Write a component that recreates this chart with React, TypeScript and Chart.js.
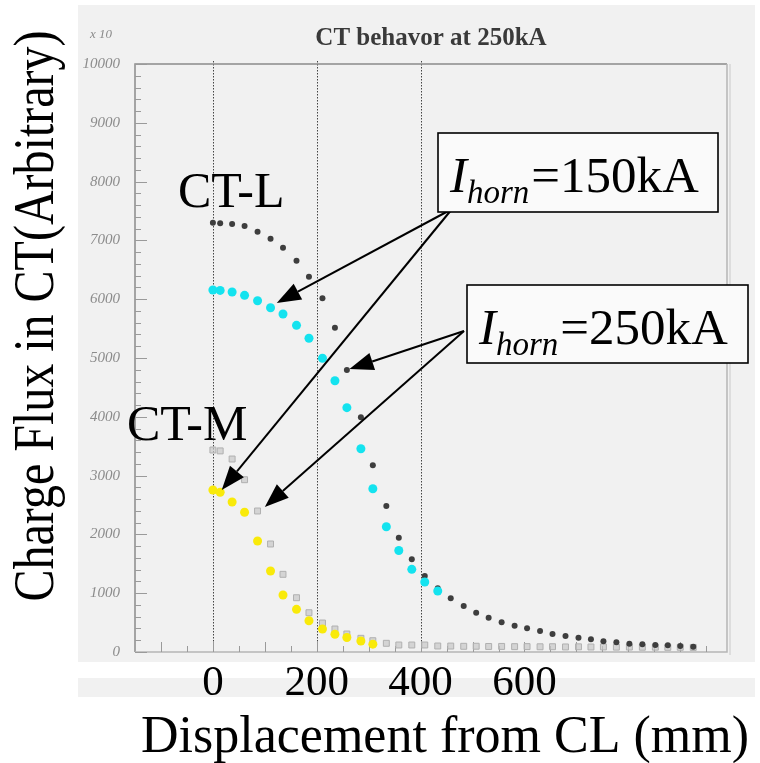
import { useEffect, useRef } from "react";
import { Chart, registerables } from "chart.js";

Chart.register(...registerables);

// Displacement from CL (mm) of each measured point
const displacementMm = [
  0, 14, 37, 61, 86, 111, 135, 161, 185, 211, 235, 258, 285, 308, 334, 358, 383, 408, 433,
  458, 483, 507, 531, 556, 581, 605, 630, 654, 679, 704, 728, 752, 777, 802, 827, 852, 876, 900, 925,
];

// CT-L at I_horn = 250kA (dark points)
const ctL250 = [
  7300, 7290, 7279, 7245, 7148, 7029, 6876, 6655, 6383, 6015, 5515, 4796, 3991, 3175, 2483, 1944,
  1577, 1293, 1083, 913, 782, 668, 583, 505, 447, 403, 357, 306, 272, 243, 216, 182, 165, 141, 131,
  119, 114, 102, 90,
];

// CT-L at I_horn = 150kA (cyan points)
const ctL150 = [
  6156, 6150, 6122, 6066, 5974, 5855, 5748, 5556, 5335, 4995, 4614, 4155, 3457, 2777, 2131, 1726,
  1406, 1190, 1037,
];

// CT-M at I_horn = 250kA (grey points)
const ctM250 = [
  3435, 3420, 3282, 2930, 2398, 1837, 1321, 923, 668, 493, 391, 306, 233, 192, 148, 119, 119, 119,
  102, 101, 97, 98, 94, 95, 91, 92, 89, 90, 86, 88, 85, 86, 83, 84, 81, 82, 79, 80, 78,
];

// CT-M at I_horn = 150kA (yellow points)
const ctM150 = [2755, 2716, 2551, 2376, 1888, 1378, 969, 726, 532, 391, 301, 247, 187, 133];

const xTickLabels = [0, 200, 400, 600];
const guideLineValues = [0, 200, 400];
const chartTitle = "CT behavor at 250kA";
const yAxisTitle = "Charge Flux in CT(Arbitrary)";
const xAxisTitle = "Displacement from CL (mm)";
const hornLabels = ["150kA", "250kA"];

// arrow targets in data units: [x mm, flux]
const arrow150Targets = [
  [123, 5935],
  [17, 2755],
];
const arrow250Targets = [
  [263, 4813],
  [100, 2466],
];

const SERIF = '"Liberation Serif", "Times New Roman", serif';

function drawArrow(ctx: CanvasRenderingContext2D, x1: number, y1: number, x2: number, y2: number) {
  const ang = Math.atan2(y2 - y1, x2 - x1);
  const headLen = 24;
  const halfW = 9;
  const bx = x2 - headLen * Math.cos(ang);
  const by = y2 - headLen * Math.sin(ang);
  ctx.beginPath();
  ctx.moveTo(x1, y1);
  ctx.lineTo(bx, by);
  ctx.lineWidth = 2;
  ctx.strokeStyle = "#000";
  ctx.stroke();
  ctx.beginPath();
  ctx.moveTo(x2, y2);
  ctx.lineTo(bx + halfW * Math.sin(ang), by - halfW * Math.cos(ang));
  ctx.lineTo(bx - halfW * Math.sin(ang), by + halfW * Math.cos(ang));
  ctx.closePath();
  ctx.fillStyle = "#000";
  ctx.fill();
}

function drawHornBox(
  ctx: CanvasRenderingContext2D,
  bx: number,
  by: number,
  bw: number,
  bh: number,
  value: string
) {
  ctx.fillStyle = "#fafafa";
  ctx.fillRect(bx, by, bw, bh);
  ctx.lineWidth = 1.6;
  ctx.strokeStyle = "#000";
  ctx.strokeRect(bx, by, bw, bh);
  const base = by + 59;
  let x = bx + 12;
  ctx.fillStyle = "#000";
  ctx.textAlign = "left";
  ctx.textBaseline = "alphabetic";
  ctx.font = `italic 51px ${SERIF}`;
  ctx.fillText("I", x, base);
  x += ctx.measureText("I").width;
  ctx.font = `italic 33px ${SERIF}`;
  ctx.fillText("horn", x, base + 11);
  x += ctx.measureText("horn").width + 2;
  ctx.font = `51px ${SERIF}`;
  ctx.fillText("=" + value, x, base);
}

const decorPlugin = {
  id: "decor",
  beforeDraw(chart: any) {
    const ctx = chart.ctx as CanvasRenderingContext2D;
    ctx.save();
    ctx.fillStyle = "#ffffff";
    ctx.fillRect(0, 0, chart.width, chart.height);
    ctx.fillStyle = "#f1f1f1";
    ctx.fillRect(78, 5, 677, 657);
    ctx.fillRect(78, 678, 677, 19);
    // title and multiplier
    ctx.fillStyle = "#3a3a3a";
    ctx.font = `bold 25px ${SERIF}`;
    ctx.textAlign = "center";
    ctx.textBaseline = "alphabetic";
    const ca = chart.chartArea;
    ctx.fillText(chartTitle, (ca.left + ca.right) / 2, 45);
    ctx.fillStyle = "#8a8a8a";
    ctx.font = `italic 13px ${SERIF}`;
    ctx.textAlign = "left";
    ctx.fillText("x 10", 90, 38);
    ctx.restore();
  },
  beforeDatasetsDraw(chart: any) {
    const ctx = chart.ctx as CanvasRenderingContext2D;
    const { left, right, top, bottom } = chart.chartArea;
    const xs = chart.scales.x;
    const ys = chart.scales.y;
    ctx.save();
    // dotted guide lines
    ctx.setLineDash([1.5, 1.5]);
    ctx.strokeStyle = "#444";
    ctx.lineWidth = 1;
    for (const v of guideLineValues) {
      const px = Math.round(xs.getPixelForValue(v)) + 0.5;
      ctx.beginPath();
      ctx.moveTo(px, top - 3);
      ctx.lineTo(px, bottom);
      ctx.stroke();
    }
    ctx.setLineDash([]);
    // frame
    ctx.lineWidth = 1.5;
    ctx.strokeStyle = "#8a8a8a";
    ctx.beginPath();
    ctx.moveTo(left, bottom);
    ctx.lineTo(left, top);
    ctx.lineTo(right, top);
    ctx.stroke();
    ctx.strokeStyle = "#b5b5b5";
    ctx.beginPath();
    ctx.moveTo(right, top);
    ctx.lineTo(right, bottom);
    ctx.lineTo(left, bottom);
    ctx.stroke();
    ctx.strokeStyle = "#d6d6d6";
    ctx.beginPath();
    ctx.moveTo(right + 3, top);
    ctx.lineTo(right + 3, bottom + 3);
    ctx.stroke();
    // inward ticks
    ctx.lineWidth = 1;
    ctx.strokeStyle = "#9a9a9a";
    for (let v = 0; v <= 10000; v += 200) {
      const py = Math.round(ys.getPixelForValue(v)) + 0.5;
      const len = v % 1000 === 0 ? 12 : 6;
      ctx.beginPath();
      ctx.moveTo(left, py);
      ctx.lineTo(left + len, py);
      ctx.stroke();
    }
    for (let v = -100; v <= 950; v += 50) {
      const px = Math.round(xs.getPixelForValue(v)) + 0.5;
      const len = v % 100 === 0 ? 10 : 6;
      ctx.beginPath();
      ctx.moveTo(px, bottom);
      ctx.lineTo(px, bottom - len);
      ctx.stroke();
    }
    ctx.restore();
  },
  afterDraw(chart: any) {
    const ctx = chart.ctx as CanvasRenderingContext2D;
    const xs = chart.scales.x;
    const ys = chart.scales.y;
    ctx.save();
    ctx.fillStyle = "#000";
    ctx.textAlign = "left";
    ctx.textBaseline = "alphabetic";
    ctx.font = `50px ${SERIF}`;
    ctx.fillText("CT-L", 178, 207);
    ctx.fillText("CT-M", 127, 440);

    // arrows
    for (const [vx, vy] of arrow150Targets) {
      drawArrow(ctx, 452, 209, xs.getPixelForValue(vx), ys.getPixelForValue(vy));
    }
    for (const [vx, vy] of arrow250Targets) {
      drawArrow(ctx, 464, 331, xs.getPixelForValue(vx), ys.getPixelForValue(vy));
    }
    drawHornBox(ctx, 438, 133, 280, 79, hornLabels[0]);
    drawHornBox(ctx, 467, 285, 281, 78, hornLabels[1]);

    // axis titles
    ctx.fillStyle = "#000";
    ctx.font = `52px ${SERIF}`;
    ctx.textAlign = "left";
    ctx.fillText(xAxisTitle, 141, 752);

    ctx.save();
    ctx.translate(53, 316);
    ctx.rotate(-Math.PI / 2);
    ctx.scale(1, 1.2);
    ctx.font = `48px ${SERIF}`;
    ctx.textAlign = "center";
    ctx.textBaseline = "alphabetic";
    ctx.fillText(yAxisTitle, 0, 0);
    ctx.restore();
    ctx.restore();
  },
};

export default function App() {
  const canvasRef = useRef<HTMLCanvasElement | null>(null);

  useEffect(() => {
    document.body.style.margin = "0";
    const canvas = canvasRef.current;
    if (!canvas) return;
    const pts = (ys: number[]) => ys.map((y, i) => ({ x: displacementMm[i], y }));
    const chart = new Chart(canvas, {
      type: "scatter",
      data: {
        datasets: [
          {
            label: "CT-L 150kA",
            data: pts(ctL150),
            pointStyle: "circle",
            pointRadius: 4.5,
            backgroundColor: "#14e3ef",
            borderWidth: 0,
            order: 1,
          },
          {
            label: "CT-M 150kA",
            data: pts(ctM150),
            pointStyle: "circle",
            pointRadius: 4.5,
            backgroundColor: "#f9ea0a",
            borderWidth: 0,
            order: 1,
          },
          {
            label: "CT-L 250kA",
            data: pts(ctL250),
            pointStyle: "circle",
            pointRadius: 3,
            backgroundColor: "#3e3e3e",
            borderWidth: 0,
            order: 3,
          },
          {
            label: "CT-M 250kA",
            data: pts(ctM250),
            pointStyle: "rect",
            pointRadius: 4.2,
            backgroundColor: "rgba(200,200,200,0.7)",
            borderColor: "#b0b0b0",
            borderWidth: 1,
            order: 3,
          },
        ],
      },
      options: {
        responsive: false,
        maintainAspectRatio: false,
        devicePixelRatio: 1,
        animation: false,
        events: [],
        layout: { padding: { left: 0, right: 33, top: 64, bottom: 0 } },
        plugins: {
          legend: { display: false },
          tooltip: { enabled: false },
          title: { display: false },
        },
        scales: {
          x: {
            type: "linear",
            min: -150,
            max: 990,
            grid: { display: false, drawTicks: false },
            border: { display: false },
            afterBuildTicks: (s: any) => {
              s.ticks = xTickLabels.map((v) => ({ value: v }));
            },
            afterFit: (s: any) => {
              s.height = 111;
            },
            ticks: {
              autoSkip: false,
              maxRotation: 0,
              padding: 6,
              color: "#000",
              font: { family: SERIF, size: 43 },
              callback: (v: any) => String(v),
            },
          },
          y: {
            type: "linear",
            min: 0,
            max: 10000,
            grid: { display: false, drawTicks: false },
            border: { display: false },
            afterFit: (s: any) => {
              s.width = 135;
            },
            ticks: {
              stepSize: 1000,
              padding: 15,
              color: "#8c8c8c",
              font: { family: SERIF, size: 15, style: "italic" },
              callback: (v: any) => String(v),
            },
          },
        },
      },
      plugins: [decorPlugin],
    });
    return () => chart.destroy();
  }, []);

  return <canvas ref={canvasRef} width={760} height={763} style={{ display: "block" }} />;
}
